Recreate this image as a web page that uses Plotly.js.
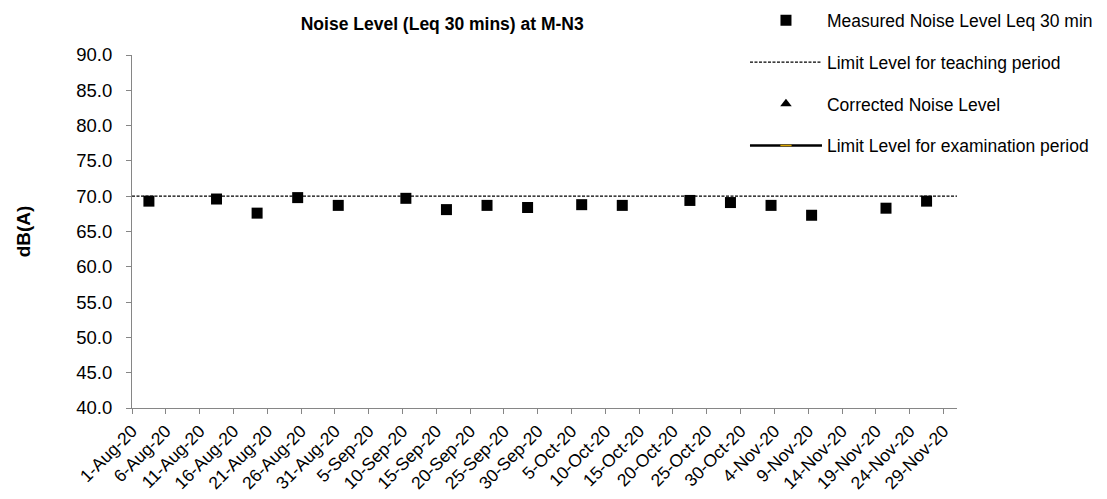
<!DOCTYPE html>
<html>
<head>
<meta charset="utf-8">
<script src="https://cdn.plot.ly/plotly-3.0.1.min.js"></script>
<style>html,body{margin:0;padding:0;background:#fff;}#chart{width:1107px;height:499px;}</style>
</head>
<body>
<div id="chart"></div>
<script>
// Measurement dates and measured noise levels (dB(A))
const measuredDates = ["2020-08-03","2020-08-13","2020-08-19","2020-08-25","2020-08-31",
  "2020-09-10","2020-09-16","2020-09-22","2020-09-28","2020-10-06","2020-10-12",
  "2020-10-22","2020-10-28","2020-11-03","2020-11-09","2020-11-20","2020-11-26"];
const measuredLevels = [69.3,69.6,67.6,69.8,68.7,69.7,68.1,68.7,68.4,68.8,68.7,
  69.4,69.1,68.7,67.3,68.3,69.3];
// Limit level for teaching period
const limitDates = ["2020-08-01","2020-12-01"];
const limitLevels = [70,70];
// Series names
const seriesNames = ["Measured Noise Level Leq 30 min","Limit Level for teaching period",
  "Corrected Noise Level","Limit Level for examination period"];

const FONT = "Arial, 'Liberation Sans', sans-serif";
const FS = 17.5;
// Excel date-axis: points sit in the middle of each day slot
const midDay = measuredDates.map(d => d + " 12:00");

const traces = [
  {x: midDay, y: measuredLevels, name: seriesNames[0], legendgroup: "a",
   type: "scatter", mode: "markers", cliponaxis: false,
   marker: {symbol: "square", size: 11, color: "#000"}},
  {x: limitDates, y: limitLevels, name: seriesNames[1], legendgroup: "b",
   type: "scatter", mode: "lines",
   line: {color: "#000", width: 1.3, dash: "3px,1.5px"}},
  {x: [null], y: [null], name: seriesNames[2], legendgroup: "c",
   type: "scatter", mode: "markers",
   marker: {symbol: "triangle-up", size: 10, color: "#000"}},
  {x: [null], y: [null], name: seriesNames[3], legendgroup: "d",
   type: "scatter", mode: "lines+markers",
   line: {color: "#000", width: 2.5},
   marker: {symbol: "line-ew-open", size: 8, color: "#d9a400", line: {color: "#d9a400", width: 1.5}}}
];

const layout = {
  width: 1107, height: 499,
  margin: {l: 132, r: 150, t: 55, b: 91, pad: 0, autoexpand: false},
  paper_bgcolor: "#fff", plot_bgcolor: "#fff",
  font: {family: FONT, size: FS, color: "#000"},
  title: {text: "<b>Noise Level (Leq 30 mins) at M-N3</b>", xref: "container", yref: "container",
          x: 0.3995, xanchor: "center", y: 0.952, yanchor: "middle",
          font: {family: FONT, size: 17.5, color: "#000"}},
  xaxis: {type: "date", range: ["2020-08-01", "2020-12-01"],
          tick0: "2020-08-01", dtick: 5*86400000, tickformat: "%-d-%b-%y",
          tickangle: -45, ticks: "outside", ticklen: 5, tickcolor: "#868686",
          showline: true, linecolor: "#868686", linewidth: 1, showgrid: false, zeroline: false,
          tickfont: {family: FONT, size: FS, color: "#000"}},
  yaxis: {range: [40, 90], tick0: 40, dtick: 5, tickformat: ".1f",
          ticks: "outside", ticklen: 5, tickcolor: "#868686", ticklabelstandoff: 10,
          showline: true, linecolor: "#868686", linewidth: 1, showgrid: false, zeroline: false,
          tickfont: {family: FONT, size: 18.5, color: "#000"},
          title: {text: "<b>dB(A)</b>", standoff: 40, font: {family: FONT, size: 19, color: "#000"}}},
  showlegend: true,
  legend: {x: 0.743, xanchor: "left", y: 1.149, yanchor: "top", bgcolor: "rgba(0,0,0,0)",
           itemwidth: 72, tracegroupgap: 16, font: {family: FONT, size: FS, color: "#000"},
           traceorder: "grouped"}
};

Plotly.newPlot("chart", traces, layout, {staticPlot: true, displayModeBar: false});
</script>
</body>
</html>
